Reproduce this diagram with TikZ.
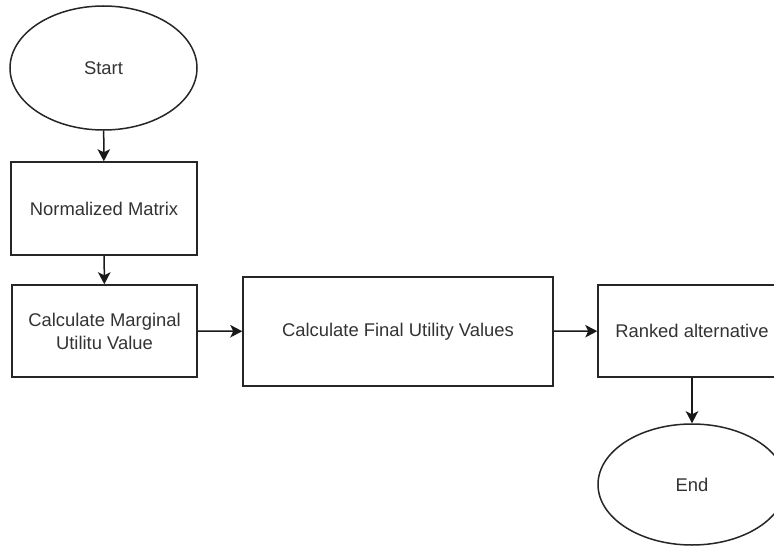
\documentclass[tikz,border=0pt]{standalone}
\usepackage{fontspec}
\setmainfont{Liberation Sans}
\usetikzlibrary{shapes.geometric,arrows.meta}
\begin{document}
\begin{tikzpicture}[x=1pt,y=-1pt,
  every node/.style={line width=1.5pt,draw=black!85,text=black!80,inner sep=0pt,align=center,
    font=\fontsize{18.4}{23}\selectfont},
  boxnode/.style={rectangle},
  ovalnode/.style={ellipse},
  flow/.style={line width=1.5pt,draw=black!90,-{Stealth[length=12pt,width=12.5pt,inset=3pt]}}]
\useasboundingbox (0,0) rectangle (774,546);
\clip (0,0) rectangle (774,546);
\fill[white] (0,0) rectangle (774,546);
\node[ovalnode,minimum width=187pt,minimum height=124pt] (start) at (103.5,68) {Start};
\node[boxnode,minimum width=186pt,minimum height=93pt] (norm) at (104,208.5) {Normalized Matrix};
\node[boxnode,minimum width=185pt,minimum height=92pt] (marg) at (104.5,331) {Calculate Marginal\\Utilitu Value};
\node[boxnode,minimum width=310pt,minimum height=109pt] (final) at (398,331.5) {Calculate Final Utility Values};
\node[boxnode,minimum width=188pt,minimum height=92pt] (rank) at (692,331) {Ranked alternative};
\node[ovalnode,minimum width=188pt,minimum height=121pt] (end) at (692,484.5) {End};
\draw[flow] (start) -- (norm);
\draw[flow] (norm) -- (marg);
\draw[flow] (marg) -- (final);
\draw[flow] (final) -- (rank);
\draw[flow] (rank) -- (end);
\end{tikzpicture}
\end{document}
